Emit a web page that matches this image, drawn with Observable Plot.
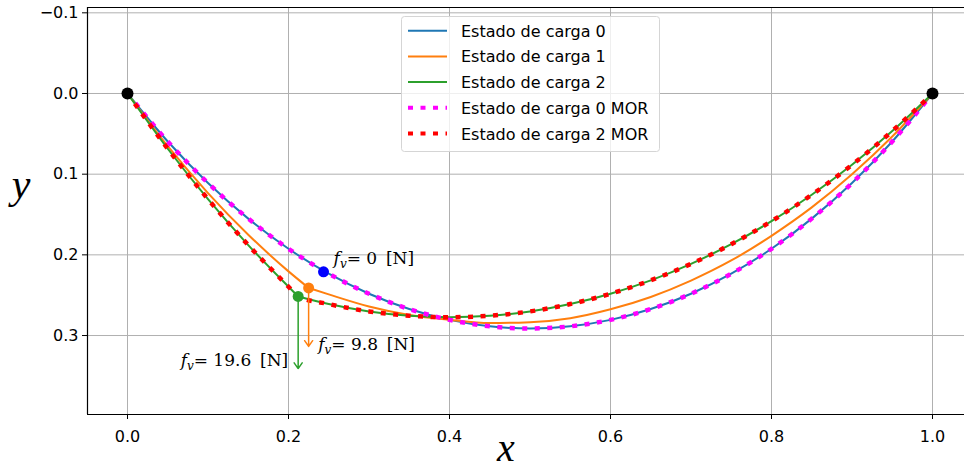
<!DOCTYPE html>
<html><head><meta charset="utf-8">
<script src="https://cdn.jsdelivr.net/npm/d3@7"></script>
<script src="https://cdn.jsdelivr.net/npm/@observablehq/plot@0.6"></script>
<style>
body{margin:0;background:#fff}
#chart{width:964px;height:470px}
</style>
</head><body><div id="chart"></div>
<script>
// ---- Data ----
const seriesNames = ["Estado de carga 0","Estado de carga 1","Estado de carga 2","Estado de carga 0 MOR","Estado de carga 2 MOR"];
const seriesColors = ["#1f77b4","#ff7f0e","#2ca02c","#ff00ff","#ff0000"];

// Estado de carga 0 (no load)
const x0 = [0,0.05,0.1,0.15,0.2,0.25,0.3,0.35,0.4,0.45,0.5,0.55,0.6,0.65,0.7,0.75,0.8,0.85,0.9,0.95,1];
const y0 = [0,0.0595,0.1110,0.1551,0.1925,0.2234,0.2482,0.2672,0.2806,0.2886,0.2913,0.2886,0.2806,0.2672,0.2482,0.2234,0.1925,0.1551,0.1110,0.0595,0];
// Estado de carga 0 MOR
const xMor0 = [0,0.05,0.1,0.15,0.2,0.25,0.3,0.35,0.4,0.45,0.5,0.55,0.6,0.65,0.7,0.75,0.8,0.85,0.9,0.95,1];
const yMor0 = [0,0.0595,0.1110,0.1551,0.1925,0.2234,0.2482,0.2672,0.2806,0.2886,0.2913,0.2886,0.2806,0.2672,0.2482,0.2234,0.1925,0.1551,0.1110,0.0595,0];

// Estado de carga 1 (left and right of the load point)
const x1L = [0,0.05,0.1,0.15,0.2,0.225];
const y1L = [0,0.0652,0.1234,0.1750,0.2205,0.241];
const x1R = [0.225,0.25,0.3,0.35,0.4,0.45,0.5,0.55,0.6,0.65,0.7,0.75,0.8,0.85,0.9,0.95,1];
const y1R = [0.241,0.2490,0.2640,0.2745,0.2805,0.2845,0.2835,0.2785,0.2675,0.2522,0.2319,0.2070,0.1764,0.1412,0.1002,0.0533,0];

// Estado de carga 2
const x2L = [0,0.05,0.1,0.15,0.2,0.212];
const y2L = [0,0.0685,0.1310,0.1879,0.2395,0.2516];
const x2R = [0.212,0.25,0.3,0.35,0.4,0.45,0.5,0.55,0.6,0.65,0.7,0.75,0.8,0.85,0.9,0.95,1];
const y2R = [0.2516,0.2610,0.2701,0.2755,0.2773,0.2755,0.2701,0.2610,0.2482,0.2316,0.2112,0.1868,0.1583,0.1255,0.0884,0.0466,0];
// Estado de carga 2 MOR
const xMor2 = [0,0.05,0.1,0.15,0.2,0.212,0.25,0.3,0.35,0.4,0.45,0.5,0.55,0.6,0.65,0.7,0.75,0.8,0.85,0.9,0.95,1];
const yMor2 = [0,0.0685,0.1310,0.1879,0.2395,0.2516,0.2610,0.2701,0.2755,0.2773,0.2755,0.2701,0.2610,0.2482,0.2316,0.2112,0.1868,0.1583,0.1255,0.0884,0.0466,0];

// Supports
const supportX = [0, 1];
const supportY = [0, 0];

// Load points, arrows and annotations
const loadForce = ["0", "9.8", "19.6"];
const loadX = [0.2435, 0.225, 0.212];
const loadY = [0.221, 0.241, 0.2516];
const loadColor = ["#0000ff", "#ff7f0e", "#2ca02c"];
const arrowEndY = [null, 0.3135, 0.341];
const labelX = [0.256, 0.237, 0.066];
const labelY = [0.2045, 0.311, 0.331];

const xTicks = [0, 0.2, 0.4, 0.6, 0.8, 1.0];
const yTicks = [-0.1, 0, 0.1, 0.2, 0.3];
const xDomain = [-0.04969, 1.03975];
const yDomain = [-0.1066, 0.3979];

// ---- Build tables ----
const pts = (xs, ys, seg) => xs.map((x, i) => ({x, y: ys[i], seg}));
const d0 = pts(x0, y0, "a");
const dM0 = pts(xMor0, yMor0, "a");
const d1 = [...pts(x1L, y1L, "L"), ...pts(x1R, y1R, "R")];
const d2 = [...pts(x2L, y2L, "L"), ...pts(x2R, y2R, "R")];
const dM2 = pts(xMor2, yMor2, "a");
const supports = supportX.map((x, i) => ({x, y: supportY[i]}));
const loads = loadX.map((x, i) => ({x, y: loadY[i], color: loadColor[i], yEnd: arrowEndY[i],
  lx: labelX[i], ly: labelY[i], label: "f_v= " + loadForce[i] + "\u2009 [N]"}));
const arrows = loads.filter(d => d.yEnd != null);

const fmt = d => (d < 0 ? "\u2212" : "") + Math.abs(d).toFixed(1);

const plot = Plot.plot({
  width: 964, height: 470,
  marginLeft: 87, marginRight: 0, marginTop: 7, marginBottom: 56,
  style: {fontFamily: "DejaVu Sans", fontSize: "16px", color: "#000", background: "#fff", overflow: "visible"},
  x: {domain: xDomain, ticks: xTicks, tickFormat: fmt, tickSize: 5, tickPadding: 11, label: null},
  y: {domain: yDomain, reverse: true, ticks: yTicks, tickFormat: fmt, tickSize: 5, tickPadding: 4, label: null},
  marks: [
    Plot.ruleX(xTicks, {stroke: "#b0b0b0", strokeWidth: 1}),
    Plot.ruleY(yTicks, {stroke: "#b0b0b0", strokeWidth: 1}),
    Plot.line(d0, {x: "x", y: "y", z: "seg", stroke: seriesColors[0], strokeWidth: 2, curve: "monotone-x"}),
    Plot.line(d1, {x: "x", y: "y", z: "seg", stroke: seriesColors[1], strokeWidth: 2, curve: "monotone-x"}),
    Plot.line(d2, {x: "x", y: "y", z: "seg", stroke: seriesColors[2], strokeWidth: 2, curve: "monotone-x"}),
    Plot.line(dM0, {x: "x", y: "y", z: "seg", stroke: seriesColors[3], strokeWidth: 4.5, strokeDasharray: "5,7.5", strokeLinecap: "butt", curve: "monotone-x"}),
    Plot.line(dM2, {x: "x", y: "y", z: "seg", stroke: seriesColors[4], strokeWidth: 4.5, strokeDasharray: "5,7.5", strokeLinecap: "butt", curve: "monotone-x"}),
    Plot.arrow(arrows, {x1: "x", y1: "y", x2: "x", y2: "yEnd", stroke: "color", strokeWidth: 1.5, headLength: 7, headAngle: 70}),
    Plot.dot(loads, {x: "x", y: "y", r: 5.5, fill: "color", stroke: null}),
    Plot.dot(supports, {x: "x", y: "y", r: 6, fill: "#000", stroke: null}),
    Plot.text(loads, {x: "lx", y: "ly", text: "label", textAnchor: "start", fontFamily: "DejaVu Serif", fontSize: 17, fill: "#000"}),
    Plot.ruleY([yDomain[0], yDomain[1]], {stroke: "#000", strokeWidth: 1.2}),
    Plot.ruleX([xDomain[0]], {stroke: "#000", strokeWidth: 1.2})
  ]
});
document.getElementById("chart").appendChild(plot);

const svg = d3.select(plot);

// Rich text for the f_v annotations
svg.selectAll("text").each(function() {
  const t = this.textContent;
  if (t && t.startsWith("f_v")) {
    const rest = t.slice(3);
    const sel = d3.select(this);
    sel.text(null);
    sel.append("tspan").attr("font-style", "italic").text("f");
    sel.append("tspan").attr("font-style", "italic").attr("font-size", 12).attr("dy", 4).text("v");
    sel.append("tspan").attr("dy", -4).text(rest);
  }
});

// Axis labels
svg.append("text").attr("x", 21).attr("y", 198).attr("text-anchor", "middle")
  .attr("font-family", "Liberation Serif").attr("font-style", "italic").attr("font-size", 42).attr("fill", "#000").text("y");
svg.append("text").attr("x", 506).attr("y", 461).attr("text-anchor", "middle")
  .attr("font-family", "Liberation Serif").attr("font-style", "italic").attr("font-size", 40).attr("fill", "#000").text("x");

// Legend
const lg = svg.append("g");
lg.append("rect").attr("x", 401.5).attr("y", 16.5).attr("width", 258).attr("height", 135).attr("rx", 3)
  .attr("fill", "#fff").attr("fill-opacity", 0.8).attr("stroke", "#d5d5d5");
const rowY = [30.7, 56.4, 82.1, 107.8, 133.5];
seriesNames.forEach((name, i) => {
  const dotted = i >= 3;
  lg.append("line").attr("x1", 408).attr("x2", 447).attr("y1", rowY[i]).attr("y2", rowY[i])
    .attr("stroke", seriesColors[i]).attr("stroke-width", dotted ? 4 : 2)
    .attr("stroke-dasharray", dotted ? "5,7.5" : null);
  lg.append("text").attr("x", 461).attr("y", rowY[i] + 6).attr("text-anchor", "start")
    .attr("font-family", "DejaVu Sans").attr("font-size", 16).attr("fill", "#000").text(name);
});
</script>
</body></html>
